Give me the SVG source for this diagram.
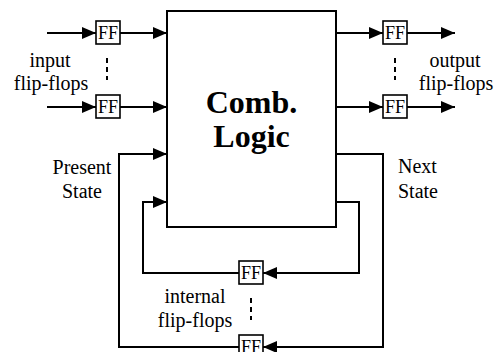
<svg xmlns="http://www.w3.org/2000/svg" width="495" height="352" viewBox="0 0 495 352">
<style>
.ln{fill:none;stroke:#000;stroke-width:2}
.box{fill:#fff;stroke:#000;stroke-width:2}
.ff{fill:#fff;stroke:#000;stroke-width:1.6}
.dash{stroke:#000;stroke-width:2;stroke-dasharray:5 4}
text{font-family:"Liberation Serif","Times New Roman",serif;fill:#000}
.lbl{font-size:20px;text-anchor:middle}
.fft{font-size:18px;text-anchor:middle}
.big{font-size:32px;font-weight:bold;text-anchor:middle}
</style>
<defs>
<marker id="ah" markerWidth="14" markerHeight="12" refX="14" refY="6" orient="auto" markerUnits="userSpaceOnUse">
<path d="M0,0 L14,6 L0,12 Z" fill="#000"/>
</marker>
</defs>
<rect width="495" height="352" fill="#fff"/>
<g id="connectors">
<line class="ln" x1="47" y1="33" x2="96" y2="33" marker-end="url(#ah)"/>
<line class="ln" x1="120" y1="33" x2="167" y2="33" marker-end="url(#ah)"/>
<line class="ln" x1="47" y1="107" x2="96" y2="107" marker-end="url(#ah)"/>
<line class="ln" x1="120" y1="107" x2="167" y2="107" marker-end="url(#ah)"/>
<line class="ln" x1="336" y1="33" x2="383" y2="33" marker-end="url(#ah)"/>
<line class="ln" x1="407" y1="33" x2="455" y2="33" marker-end="url(#ah)"/>
<line class="ln" x1="336" y1="107" x2="383" y2="107" marker-end="url(#ah)"/>
<line class="ln" x1="407" y1="107" x2="455" y2="107" marker-end="url(#ah)"/>
<polyline class="ln" points="239,347 119,347 119,154 167,154" marker-end="url(#ah)"/>
<polyline class="ln" points="239,273 143,273 143,202 167,202" marker-end="url(#ah)"/>
<polyline class="ln" points="336,154 383,154 383,347 263,347" marker-end="url(#ah)"/>
<polyline class="ln" points="336,202 359,202 359,273 263,273" marker-end="url(#ah)"/>
<line class="dash" x1="107" y1="58" x2="107" y2="80"/>
<line class="dash" x1="395" y1="58" x2="395" y2="80"/>
<line class="dash" x1="251" y1="298" x2="251" y2="320"/>
</g>
<g id="comb">
<rect class="box" x="167" y="11" width="169" height="216"/>
<text class="big" x="251.5" y="113">Comb.</text>
<text class="big" x="251.5" y="147">Logic</text>
</g>
<g id="ff-in1"><rect class="ff" x="96" y="21" width="24" height="23"/><text class="fft" x="108" y="39">FF</text></g>
<g id="ff-in2"><rect class="ff" x="96" y="95" width="24" height="23"/><text class="fft" x="108" y="113">FF</text></g>
<g id="ff-out1"><rect class="ff" x="383" y="21" width="24" height="23"/><text class="fft" x="395" y="39">FF</text></g>
<g id="ff-out2"><rect class="ff" x="383" y="95" width="24" height="23"/><text class="fft" x="395" y="113">FF</text></g>
<g id="ff-int1"><rect class="ff" x="239" y="261" width="24" height="23"/><text class="fft" x="251" y="279">FF</text></g>
<g id="ff-int2"><rect class="ff" x="239" y="335" width="24" height="23"/><text class="fft" x="251" y="353">FF</text></g>
<g id="labels">
<text class="lbl" x="50" y="67">input</text>
<text class="lbl" x="51" y="90">flip-flops</text>
<text class="lbl" x="455" y="67">output</text>
<text class="lbl" x="456" y="90">flip-flops</text>
<text class="lbl" x="82" y="174">Present</text>
<text class="lbl" x="82" y="198">State</text>
<text x="398" y="173" font-size="20">Next</text>
<text x="398" y="198" font-size="20">State</text>
<text class="lbl" x="195" y="303">internal</text>
<text class="lbl" x="195" y="327">flip-flops</text>
</g>
</svg>
